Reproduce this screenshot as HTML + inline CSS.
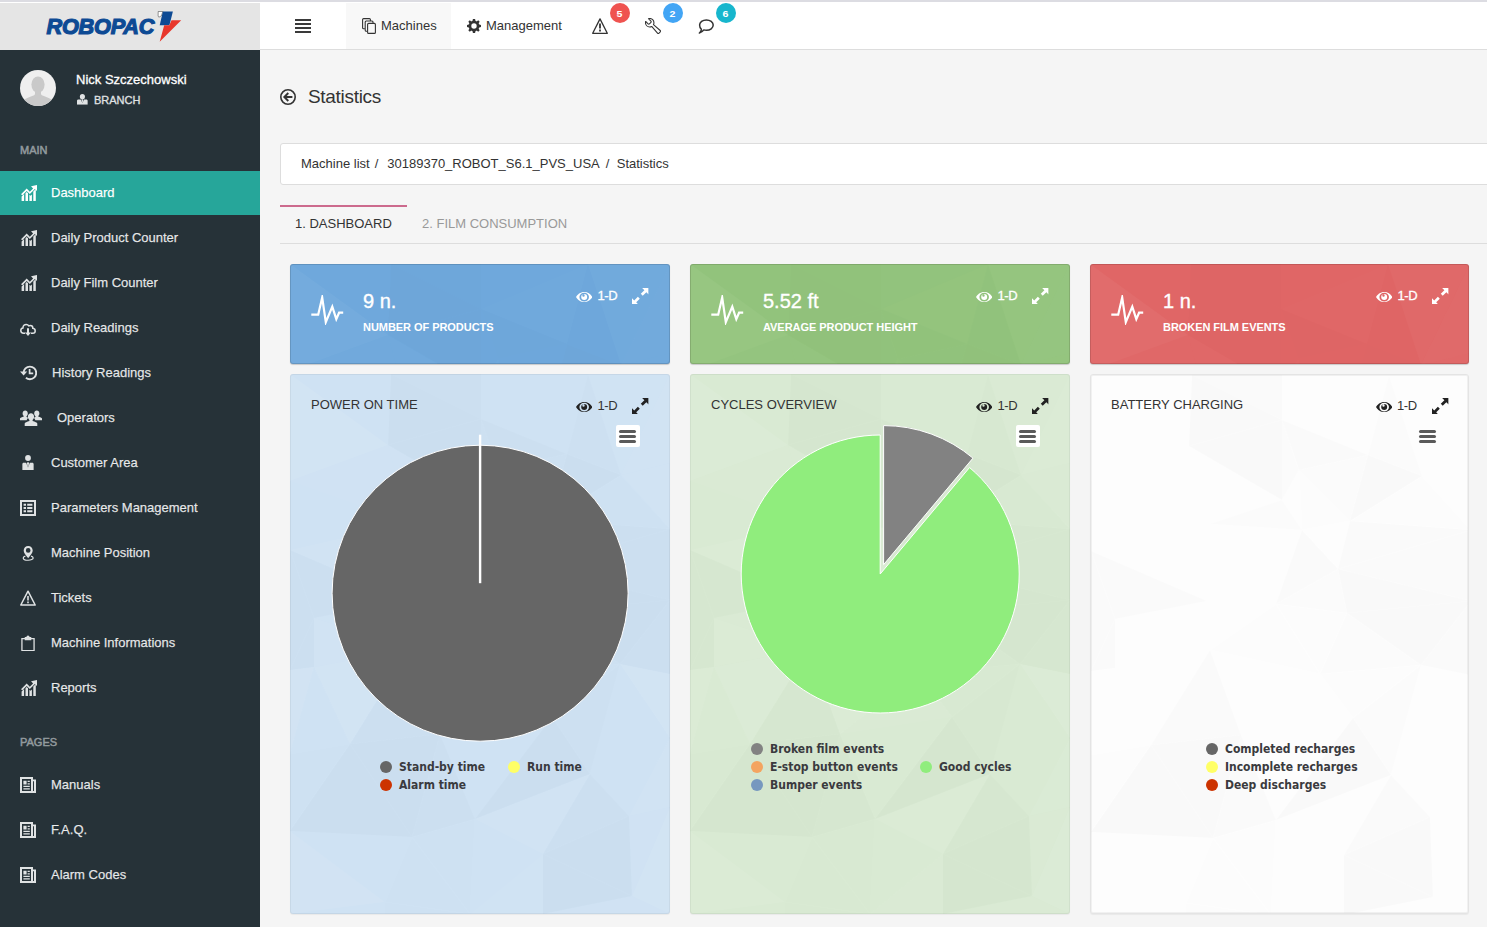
<!DOCTYPE html>
<html lang="en">
<head>
<meta charset="utf-8">
<title>Statistics</title>
<style>
*{box-sizing:border-box;margin:0;padding:0}
html,body{width:1487px;height:927px;overflow:hidden}
body{font-family:"Liberation Sans",Arial,sans-serif;font-size:13px;color:#333;background:#f5f5f5;position:relative}
.abs{position:absolute}
#topstrip{left:0;top:0;width:1487px;height:2px;background:#dcdce2}
#topwhite{left:0;top:2px;width:1487px;height:1px;background:#fff}
/* sidebar */
#logo{left:0;top:3px;width:260px;height:47px;background:#e5e5e5}
#sidebar{left:0;top:50px;width:260px;height:877px;background:#263238;color:#fff}
#avatar{left:20px;top:20px;width:36px;height:36px;border-radius:50%;background:#efefef;overflow:hidden}
#uname{left:76px;top:21.5px;font-size:13px;font-weight:400;color:#fff;line-height:16px;white-space:nowrap;-webkit-text-stroke:0.3px #fff}
#urole{left:94px;top:43px;font-size:11px;color:#e0e3e4;line-height:14px;white-space:nowrap;-webkit-text-stroke:0.3px #e0e3e4}
.navhead{left:20px;font-size:11px;color:#929a9e;line-height:12px;text-transform:uppercase;-webkit-text-stroke:0.5px #929a9e}
.nav{left:0;width:260px;height:44px;color:rgba(255,255,255,.85);font-size:13px;line-height:20px}
.nav span{position:absolute;left:51px;top:11.5px;white-space:nowrap;-webkit-text-stroke:0.25px rgba(255,255,255,.8)}
.nav svg{position:absolute;fill:#dfe2e3;color:#dfe2e3}
.nav.active{background:#26a69a;color:#fff}
.nav.active svg{fill:#fff;color:#fff}
/* navbar */
#navbar{left:260px;top:3px;width:1227px;height:47px;background:#fff;border-bottom:1px solid #ddd}
#tabM{left:86px;top:0;width:105px;height:46px;background:#f8f8f8}
.nbtxt{top:15px;font-size:13px;line-height:16px;color:#333;white-space:nowrap}
.badge{top:0;width:20px;height:20px;border-radius:50%;color:#fff;font-size:9px;font-weight:700;line-height:22px;text-align:center}
.badge b{display:inline-block;transform:scaleX(1.18);font-weight:700}
/* page */
#title{left:308px;top:85px;font-size:19px;line-height:24px;color:#333;white-space:nowrap;letter-spacing:-0.3px}
#crumb{left:280px;top:143px;width:1220px;height:42px;background:#fff;border:1px solid #ddd;border-radius:3px}
#crumb div{position:absolute;left:20px;top:12px;font-size:13px;line-height:16px;color:#333;white-space:pre}
#tabline{left:280px;top:243px;width:1207px;height:1px;background:#ddd}
#tabact{left:280px;top:205px;width:127px;height:2px;background:#cc6a8d}
.tab{top:215.5px;font-size:13px;line-height:16px;white-space:nowrap}
/* cards */
.stat{top:264px;width:380px;height:99.5px;box-shadow:0 1px 1px rgba(0,0,0,.18), inset 0 0 0 1px rgba(0,0,0,.13);border-radius:3px;color:#fff;overflow:hidden}
.stat .v{position:absolute;left:73px;top:25px;font-size:20px;line-height:24px;white-space:nowrap;-webkit-text-stroke:0.35px #fff}
.stat .l{position:absolute;left:73px;top:56px;font-size:11px;line-height:14px;font-weight:700;white-space:nowrap;text-transform:uppercase;letter-spacing:-0.05px}
.oned{position:absolute;left:307.5px;font-size:13px;line-height:16px;white-space:nowrap;letter-spacing:-0.4px}
.stat .oned{top:23.5px;color:#fff;-webkit-text-stroke:0.3px #fff}
.chart{top:374px;width:380px;height:540px;border-radius:3px;overflow:hidden;box-shadow:inset 0 0 0 1px rgba(0,0,0,.05), 0 1px 1px rgba(0,0,0,.05)}
.chart .t{position:absolute;left:21px;top:22.5px;font-size:13px;line-height:16px;color:#333;white-space:nowrap}
.chart .oned{top:24px;color:#333}
.menu{position:absolute;left:325.6px;top:51.4px;width:24px;height:22px;border-radius:2px;background:#fff}
.menu i{position:absolute;left:3.5px;width:17px;height:3px;border-radius:1.5px;background:#5a5a5a}
.lg{position:absolute;font-family:"DejaVu Sans Condensed","DejaVu Sans",sans-serif;font-weight:700;font-size:12px;line-height:14px;color:#3a3a3e;white-space:nowrap}
.dot{position:absolute;width:12px;height:12px;border-radius:50%}
svg.full{position:absolute;left:0;top:0}
svg.tex{position:absolute;left:0;top:0;width:380px;height:540px}
.stat svg.tex{opacity:.55}
</style>
</head>
<body>

<svg width="0" height="0" style="position:absolute">
<defs>
<symbol id="i-stats" viewBox="0 0 16 16">
  <path d="M0.6 16v-4.4l2.5-2.5V16z M4.5 16V8.2l1.2-1.2 1.3 1.3V16z M8.4 16V9.7l1.2 1 1.3-1.3V16z M12.3 16V6.5l2.5-2.5V16z"/>
  <path d="M0 9.3 5.7 3.6 8.8 6.7 12.1 3.4 10 1.3 16 0 V6 l-2.1-2.1-5.1 5.1-3.1-3.1-4.3 4.3z"/>
</symbol>
<symbol id="i-cloud" viewBox="0 0 16 16">
  <path fill="none" stroke="currentColor" stroke-width="1.5" d="M5.2 11.2H3.6C2 11.2 0.8 10 0.8 8.5c0-1.3 0.9-2.4 2.2-2.6 0-0.1 0-0.2 0-0.3 0-1.8 1.4-3.2 3.2-3.2 1.1 0 2.1 0.6 2.7 1.5 0.4-0.3 0.9-0.4 1.4-0.4 1.4 0 2.5 1.1 2.5 2.5 0 0.1 0 0.2 0 0.3 1.3 0.2 2.4 1.3 2.4 2.6 0 1.3-1.1 2.3-2.4 2.3h-1.9"/>
  <path d="M7 6.2h2v4.3h2L8 14 5 10.5h2z"/>
</symbol>
<symbol id="i-history" viewBox="0 0 17 16">
  <path fill="none" stroke="currentColor" stroke-width="1.9" d="M3.6 7.9c0-3.5 2.8-6.3 6.3-6.3s6.3 2.8 6.3 6.3-2.8 6.3-6.3 6.3c-1.5 0-2.9-0.5-4-1.4"/>
  <path d="M0 6.4h7.2L3.6 10.6z"/>
  <path fill="none" stroke="currentColor" stroke-width="1.7" d="M9.6 4v4.4h3.6"/>
</symbol>
<symbol id="i-users" viewBox="0 0 22 16">
  <path d="M5.2 0.4c1.5 0 2.6 1.3 2.6 3 0 1.1-0.5 2.2-1.3 2.8v0.9c0.5 0.2 1.1 0.5 1.6 0.8-0.9 0.7-1.2 1.4-1.5 2.3H0V8.6c0-0.6 2-1.4 3.8-2V5.9C3.1 5.4 2.6 4.5 2.6 3.4c0-1.7 1.1-3 2.6-3z"/>
  <path d="M16.8 0.4c-1.5 0-2.6 1.3-2.6 3 0 1.1 0.5 2.2 1.3 2.8v0.9c-0.5 0.2-1.1 0.5-1.6 0.8 0.9 0.7 1.2 1.4 1.5 2.3H22V8.6c0-0.6-2-1.4-3.8-2V5.9c0.7-0.5 1.2-1.4 1.2-2.5 0-1.7-1.1-3-2.6-3z"/>
  <path d="M11 3.2c1.8 0 3.1 1.5 3.1 3.5 0 1.3-0.6 2.5-1.5 3.2v1c2.2 0.7 4.7 1.7 4.7 2.5V16H4.7v-2.6c0-0.8 2.5-1.8 4.7-2.5v-1C8.5 9.2 7.9 8 7.9 6.7c0-2 1.3-3.5 3.1-3.5z"/>
</symbol>
<symbol id="i-usertie" viewBox="0 0 12 16">
  <circle cx="6" cy="3.2" r="3.1"/>
  <path d="M0 16V9.6c0-0.8 0.6-1.4 1.4-1.4H4L6 13.2 8 8.2h2.6c0.8 0 1.4 0.6 1.4 1.4V16z"/>
  <path d="M5.3 7.8h1.4l0.4 1-0.6 3.4L6 13l-0.5-0.8-0.6-3.4z"/>
</symbol>
<symbol id="i-list" viewBox="0 0 16 16">
  <path fill-rule="evenodd" d="M0 0h16v16H0z M2 2v12h12V2z"/>
  <path d="M3.6 3.8h2.4v2H3.6z M7.2 3.8h5.2v2H7.2z M3.6 7h2.4v2H3.6z M7.2 7h5.2v2H7.2z M3.6 10.2h2.4v2H3.6z M7.2 10.2h5.2v2H7.2z"/>
</symbol>
<symbol id="i-pin" viewBox="0 0 12 16">
  <path fill-rule="evenodd" d="M6 0c2.7 0 4.8 2.1 4.8 4.7 0 3.1-3.6 6.3-4.8 8.3C4.8 11 1.2 7.8 1.2 4.7 1.2 2.1 3.3 0 6 0z M6 2.2a2.5 2.5 0 1 0 0 5 2.5 2.5 0 0 0 0-5z"/>
  <path fill="none" stroke="currentColor" stroke-width="1.3" d="M3 10.8C1.6 11.2 0.7 11.9 0.7 12.7c0 1.4 2.4 2.5 5.3 2.5s5.3-1.1 5.3-2.5c0-0.8-0.9-1.5-2.3-1.9"/>
</symbol>
<symbol id="i-warn" viewBox="0 0 16 16">
  <path fill="none" stroke="currentColor" stroke-width="1.5" stroke-linejoin="round" d="M8 1.2 15.2 15H0.8z"/>
  <path d="M7.2 6h1.6v4.6H7.2z M7.2 11.6h1.6v1.7H7.2z"/>
</symbol>
<symbol id="i-clip" viewBox="0 0 14 17">
  <path fill="none" stroke="currentColor" stroke-width="1.35" d="M0.7 3.7h12.6v12.6H0.7z"/>
  <path d="M3.6 2.2H5.4C5.4 1.2 6 0.4 7 0.4s1.6 0.8 1.6 1.8H10.4V5.4H3.6z"/>
</symbol>
<symbol id="i-news" viewBox="0 0 16 16">
  <path fill-rule="evenodd" d="M0 0h13v2.4h3V16H0z M2 2v12h9V2z M13 4.2V14h1V4.2z"/>
  <path d="M3.4 3.8h3.2v3.6H3.4z M7.6 3.8h2.2v1.2H7.6z M7.6 6.2h2.2v1.2H7.6z M3.4 8.8h6.4v1.2H3.4z M3.4 11.2h6.4v1.2H3.4z"/>
</symbol>

<symbol id="i-pulse" viewBox="0 0 34 30">
  <path fill="none" stroke="currentColor" stroke-width="2.2" stroke-linejoin="miter" stroke-miterlimit="6" d="M1.3 19.7H8.2L12.2 2.5 15.8 27.2 22.3 11.6 26.3 24.1 29.1 17.7H33.2"/>
</symbol>
<symbol id="i-eye" viewBox="0 0 16.4 10.2">
  <path fill-rule="evenodd" d="M8.2 0C12 0 15.2 2.6 16.4 5.1 15.2 7.6 12 10.2 8.2 10.2S1.2 7.6 0 5.1C1.2 2.6 4.4 0 8.2 0z M8.2 0.8A4.8 4.3 0 1 0 8.2 9.4 4.8 4.3 0 0 0 8.2 0.8z"/>
  <path fill-rule="evenodd" d="M8.2 2.1a3 3 0 1 1 0 6 3 3 0 0 1 0-6z M7.5 2.3a1.2 1.2 0 1 0 0 2.4 1.2 1.2 0 0 0 0-2.4z"/>
</symbol>
<symbol id="i-expand" viewBox="0 0 17 17">
  <path d="M17 0v6.6L14.7 4.3 11 8 9 6 12.7 2.3 10.4 0z"/>
  <path d="M0 17v-6.6L2.3 12.7 6 9 8 11 4.3 14.7 6.6 17z"/>
</symbol>
<symbol id="i-back" viewBox="0 0 16 16">
  <circle cx="8" cy="8" r="7.2" fill="none" stroke="currentColor" stroke-width="1.6"/>
  <path fill="none" stroke="currentColor" stroke-width="1.9" d="M12.4 8H4.8 M8.3 4 4.3 8 8.3 12"/>
</symbol>
<symbol id="i-stack" viewBox="0 0 14 16">
  <path fill="none" stroke="currentColor" stroke-width="1.1" d="M2.6 10.8H1.6C1 10.8 0.6 10.4 0.6 9.8V1.6C0.6 1 1 0.6 1.6 0.6H7.4C8 0.6 8.4 1 8.4 1.6V2.6 M5 13.2H4.2C3.6 13.2 3.2 12.8 3.2 12.2V4C3.2 3.4 3.6 3 4.2 3H10C10.6 3 11 3.4 11 4V5.2"/>
  <rect x="5.6" y="5.4" width="7.8" height="10" rx="1" fill="none" stroke="currentColor" stroke-width="1.1"/>
</symbol>
<symbol id="i-gear" viewBox="0 0 14 14">
  <path fill-rule="evenodd" d="M5.9 0h2.2l0.3 1.8c0.5 0.1 0.9 0.3 1.3 0.6l1.5-1.1 1.5 1.5-1.1 1.5c0.3 0.4 0.5 0.8 0.6 1.3L14 5.9v2.2l-1.8 0.3c-0.1 0.5-0.3 0.9-0.6 1.3l1.1 1.5-1.5 1.5-1.5-1.1c-0.4 0.3-0.8 0.5-1.3 0.6L8.1 14H5.9l-0.3-1.8c-0.5-0.1-0.9-0.3-1.3-0.6l-1.5 1.1-1.5-1.5 1.1-1.5C2.1 9.3 1.9 8.9 1.8 8.4L0 8.1V5.9l1.8-0.3c0.1-0.5 0.3-0.9 0.6-1.3L1.3 2.8l1.5-1.5 1.5 1.1c0.4-0.3 0.8-0.5 1.3-0.6z M7 4.3a2.7 2.7 0 1 0 0 5.4 2.7 2.7 0 0 0 0-5.4z"/>
</symbol>
<symbol id="i-warn2" viewBox="0 0 16 16">
  <path fill="none" stroke="currentColor" stroke-width="1.3" stroke-linejoin="round" d="M8 0.9 15.3 15.3H0.7z"/>
  <path d="M7.1 5.6h1.8v5H7.1z M7.1 11.6h1.8v1.8H7.1z"/>
</symbol>
<symbol id="i-wrench" viewBox="-1 -1 34 34">
  <path fill="none" stroke="currentColor" stroke-width="2.3" stroke-linejoin="round" d="M31.342 25.559l-14.392-12.336c0.67-1.259 1.051-2.696 1.051-4.222 0-4.971-4.029-9-9-9-0.909 0-1.787 0.135-2.614 0.386l5.2 5.2c0.778 0.778 0.778 2.051 0 2.828l-3.172 3.172c-0.778 0.778-2.051 0.778-2.828 0l-5.2-5.2c-0.251 0.827-0.386 1.705-0.386 2.614 0 4.971 4.029 9 9 9 1.526 0 2.963-0.38 4.222-1.051l12.336 14.392c0.716 0.835 1.938 0.882 2.716 0.104l3.172-3.172c0.778-0.778 0.731-2-0.104-2.716z"/>
</symbol>
<symbol id="i-bubble" viewBox="0 0 16 15">
  <path fill="none" stroke="currentColor" stroke-width="1.5" stroke-linejoin="round" d="M8.4 0.9c3.8 0 6.8 2.3 6.8 5.2s-3 5.2-6.8 5.2c-0.9 0-1.8-0.1-2.6-0.4C4.8 12.3 3.2 13.6 1.4 14c1.2-1 1.9-2.2 2-3.6C2.3 9.4 1.6 7.8 1.6 6.1 1.6 3.2 4.6 0.9 8.4 0.9z"/>
</symbol>
<symbol id="poly" viewBox="0 0 380 540"><path d="M101 0L191 0L191 45z" fill="#000" fill-opacity="0.012"/><path d="M191 0L298 0L191 45z" fill="#fff" fill-opacity="0.007"/><path d="M180 540L122 463L185 445z" fill="#000" fill-opacity="0.004"/><path d="M253 480L180 540L185 445z" fill="#fff" fill-opacity="0.016"/><path d="M150 360L262 343L185 445z" fill="#fff" fill-opacity="0.019"/><path d="M122 463L150 360L185 445z" fill="#000" fill-opacity="0.013"/><path d="M150 360L122 463L60 370z" fill="#000" fill-opacity="0.014"/><path d="M380 364L380 433L339 442z" fill="#fff" fill-opacity="0.051"/><path d="M0 176L24 244L0 296z" fill="#000" fill-opacity="0.012"/><path d="M116 226L24 244L0 176z" fill="#000" fill-opacity="0.013"/><path d="M98 71L0 107L0 0z" fill="#fff" fill-opacity="0.074"/><path d="M101 0L98 71L0 0z" fill="#000" fill-opacity="0.001"/><path d="M98 71L101 0L191 45z" fill="#000" fill-opacity="0.014"/><path d="M259 146L211 155L208 95z" fill="#000" fill-opacity="0.005"/><path d="M277 80L259 146L208 95z" fill="#000" fill-opacity="0.009"/><path d="M277 80L208 95L191 45z" fill="#000" fill-opacity="0.011"/><path d="M298 0L277 80L191 45z" fill="#fff" fill-opacity="0.02"/><path d="M122 463L0 457L60 370z" fill="#000" fill-opacity="0.015"/><path d="M0 457L0 380L60 370z" fill="#000" fill-opacity="0.005"/><path d="M253 480L253 540L180 540z" fill="#fff" fill-opacity="0.036"/><path d="M119 275L116 226L185 229z" fill="#fff" fill-opacity="0.026"/><path d="M119 275L150 360L60 370z" fill="#000" fill-opacity="0.013"/><path d="M119 275L24 244L116 226z" fill="#fff" fill-opacity="0.039"/><path d="M300 400L380 364L339 442z" fill="#fff" fill-opacity="0.014"/><path d="M253 480L300 400L339 442z" fill="#000" fill-opacity="0.011"/><path d="M262 343L300 400L185 445z" fill="#000" fill-opacity="0.014"/><path d="M300 400L253 480L185 445z" fill="#fff" fill-opacity="0.055"/><path d="M0 107L119 149L0 176z" fill="#000" fill-opacity="0.001"/><path d="M98 71L119 149L0 107z" fill="#fff" fill-opacity="0.033"/><path d="M119 149L116 226L0 176z" fill="#fff" fill-opacity="0.057"/><path d="M116 226L119 149L185 229z" fill="#fff" fill-opacity="0.032"/><path d="M119 149L211 155L185 229z" fill="#fff" fill-opacity="0.063"/><path d="M256 238L229 299L185 229z" fill="#000" fill-opacity="0.003"/><path d="M150 360L229 299L262 343z" fill="#fff" fill-opacity="0.045"/><path d="M229 299L119 275L185 229z" fill="#000" fill-opacity="0.002"/><path d="M119 275L229 299L150 360z" fill="#fff" fill-opacity="0.065"/><path d="M247 194L211 155L259 146z" fill="#fff" fill-opacity="0.057"/><path d="M380 155L247 194L259 146z" fill="#000" fill-opacity="0.012"/><path d="M211 155L247 194L185 229z" fill="#000" fill-opacity="0.011"/><path d="M247 194L256 238L185 229z" fill="#000" fill-opacity="0.008"/><path d="M380 364L330 290L380 300z" fill="#fff" fill-opacity="0.07"/><path d="M229 299L330 290L262 343z" fill="#000" fill-opacity="0.002"/><path d="M330 290L229 299L256 238z" fill="#000" fill-opacity="0.008"/><path d="M330 290L300 400L262 343z" fill="#000" fill-opacity="0.006"/><path d="M300 400L330 290L380 364z" fill="#fff" fill-opacity="0.001"/><path d="M95 540L95 528L180 540z" fill="#000" fill-opacity="0.004"/><path d="M95 528L122 463L180 540z" fill="#000" fill-opacity="0.005"/><path d="M95 528L0 457L122 463z" fill="#fff" fill-opacity="0.013"/><path d="M95 528L95 540L0 540z" fill="#fff" fill-opacity="0.013"/><path d="M0 457L95 528L0 540z" fill="#fff" fill-opacity="0.061"/><path d="M253 540L342 522L380 540z" fill="#fff" fill-opacity="0.027"/><path d="M342 522L253 540L253 480z" fill="#000" fill-opacity="0.015"/><path d="M342 522L253 480L339 442z" fill="#000" fill-opacity="0.015"/><path d="M342 522L380 433L380 540z" fill="#fff" fill-opacity="0.074"/><path d="M380 433L342 522L339 442z" fill="#fff" fill-opacity="0.026"/><path d="M24 244L24 293L0 296z" fill="#000" fill-opacity="0.010"/><path d="M119 275L24 293L24 244z" fill="#fff" fill-opacity="0.054"/><path d="M24 293L119 275L60 370z" fill="#fff" fill-opacity="0.07"/><path d="M24 293L0 380L0 296z" fill="#fff" fill-opacity="0.061"/><path d="M0 380L24 293L60 370z" fill="#fff" fill-opacity="0.01"/><path d="M191 125L119 149L98 71z" fill="#fff" fill-opacity="0.032"/><path d="M208 95L191 125L191 45z" fill="#000" fill-opacity="0.009"/><path d="M191 125L98 71L191 45z" fill="#000" fill-opacity="0.014"/><path d="M211 155L191 125L208 95z" fill="#fff" fill-opacity="0.011"/><path d="M119 149L191 125L211 155z" fill="#000" fill-opacity="0.007"/><path d="M330 290L380 226L380 300z" fill="#000" fill-opacity="0.013"/><path d="M380 226L330 290L256 238z" fill="#000" fill-opacity="0.015"/><path d="M247 194L380 226L256 238z" fill="#000" fill-opacity="0.015"/><path d="M380 226L247 194L380 155z" fill="#000" fill-opacity="0.012"/><path d="M331 101L380 89L380 155z" fill="#fff" fill-opacity="0.045"/><path d="M331 101L380 155L259 146z" fill="#000" fill-opacity="0.003"/><path d="M277 80L331 101L259 146z" fill="#000" fill-opacity="0.015"/><path d="M331 101L277 80L298 0z" fill="#000" fill-opacity="0.006"/><path d="M331 101L298 0L380 0z" fill="#fff" fill-opacity="0.04"/><path d="M380 89L331 101L380 0z" fill="#fff" fill-opacity="0.056"/></symbol>
<symbol id="i-role" viewBox="0 0 11 11">
  <circle cx="5.5" cy="2.7" r="2.6"/>
  <path d="M0 11V7c0-0.8 0.6-1.4 1.4-1.4H3.8L5.5 9.2 7.2 5.6H9.6C10.4 5.6 11 6.2 11 7v4z"/>
  <path d="M4.9 5.4h1.2l0.3 0.8-0.5 2.2-0.4 0.7-0.4-0.7-0.5-2.2z"/>
</symbol>
</defs>
</svg>
<div class="abs" id="topstrip"></div>
<div class="abs" id="topwhite"></div>

<!-- NAVBAR -->
<div class="abs" id="navbar">
  <div class="abs" id="tabM"></div>
  <div class="abs" style="left:35px;top:16px;width:16px;height:2px;background:#3a3a3a;box-shadow:0 4px 0 #3a3a3a,0 8px 0 #3a3a3a,0 12px 0 #3a3a3a"></div>
  <svg class="abs" style="left:102px;top:15px;width:14px;height:16px;color:#333"><use href="#i-stack"/></svg>
  <svg class="abs" style="left:207px;top:16px;width:14px;height:14px;fill:#333"><use href="#i-gear"/></svg>
  <svg class="abs" style="left:332px;top:15px;width:16px;height:16px;color:#333;fill:#333"><use href="#i-warn2"/></svg>
  <svg class="abs" style="left:385px;top:15px;width:16px;height:16px;color:#333"><use href="#i-wrench"/></svg>
  <svg class="abs" style="left:438px;top:16px;width:16px;height:15px;color:#333"><use href="#i-bubble"/></svg>
  <div class="abs nbtxt" style="left:121px">Machines</div>
  <div class="abs nbtxt" style="left:226px">Management</div>
  <div class="abs badge" style="left:350px;background:#ef5350"><b>5</b></div>
  <div class="abs badge" style="left:403px;background:#42a5f5"><b>2</b></div>
  <div class="abs badge" style="left:456px;background:#17b6cd"><b>6</b></div>
</div>

<!-- SIDEBAR -->
<div class="abs" id="logo">
  <div style="position:absolute;left:46.5px;top:8.7px;font-size:21.7px;line-height:30px;font-weight:700;font-style:italic;color:#0d4a94;letter-spacing:-0.22px;-webkit-text-stroke:1.2px #0d4a94;white-space:nowrap">ROBOPAC</div>
  <svg style="position:absolute;left:155px;top:6px" width="30" height="36" viewBox="155 9 30 36">
    <path d="M158.2 11.5H162.9L161.4 15.8 158.8 17.2 158.1 16z" fill="#fff" stroke="#333" stroke-width="0.5"/>
    <path d="M162.9 11.5H172.9L169.4 25.3H159.7z" fill="#0d4a94"/>
    <path d="M171.5 20.3H181.2L159.7 41.7 164.2 25.3H169.4z" fill="#e8372c"/>
  </svg>
</div>
<div class="abs" id="sidebar">
  <div class="abs" id="avatar"><svg width="36" height="36" viewBox="0 0 36 36"><ellipse cx="18" cy="14.6" rx="6.6" ry="8.2" fill="#c9c9c9"/><path d="M15 19h6v4.5c0 1 0.5 1.6 1.5 2C27 27 31 28.5 33 31v5H3v-5c2-2.5 6-4 10.5-5.5 1-0.4 1.5-1 1.5-2z" fill="#c9c9c9"/></svg></div>
  <div class="abs" id="uname">Nick Szczechowski</div>
  <svg class="abs" style="left:76.8px;top:44px;width:10.8px;height:10.8px;fill:#e0e3e4"><use href="#i-role"/></svg>
  <div class="abs" id="urole">BRANCH</div>
  <div class="abs navhead" style="top:94px">MAIN</div>
  <div class="abs nav active" style="top:121px"><svg style="left:20.5px;top:14px;width:16px;height:16px"><use href="#i-stats"/></svg><span>Dashboard</span></div>
  <div class="abs nav" style="top:166px"><svg style="left:20.5px;top:14px;width:16px;height:16px"><use href="#i-stats"/></svg><span>Daily Product Counter</span></div>
  <div class="abs nav" style="top:211px"><svg style="left:20.5px;top:14px;width:16px;height:16px"><use href="#i-stats"/></svg><span>Daily Film Counter</span></div>
  <div class="abs nav" style="top:256px"><svg style="left:20px;top:15.8px;width:16px;height:16px"><use href="#i-cloud"/></svg><span>Daily Readings</span></div>
  <div class="abs nav" style="top:301px"><svg style="left:20px;top:14px;width:17px;height:16px"><use href="#i-history"/></svg><span style="left:52px">History Readings</span></div>
  <div class="abs nav" style="top:346px"><svg style="left:20px;top:13.5px;width:22px;height:16px"><use href="#i-users"/></svg><span style="left:57px">Operators</span></div>
  <div class="abs nav" style="top:391px"><svg style="left:22px;top:13.7px;width:12px;height:15px"><use href="#i-usertie"/></svg><span>Customer Area</span></div>
  <div class="abs nav" style="top:436px"><svg style="left:20px;top:14px;width:16px;height:16px"><use href="#i-list"/></svg><span>Parameters Management</span></div>
  <div class="abs nav" style="top:481px"><svg style="left:22px;top:14.5px;width:12.4px;height:15px"><use href="#i-pin"/></svg><span>Machine Position</span></div>
  <div class="abs nav" style="top:526px"><svg style="left:20px;top:14px;width:16px;height:16px"><use href="#i-warn"/></svg><span>Tickets</span></div>
  <div class="abs nav" style="top:571px"><svg style="left:21px;top:13.7px;width:14px;height:16.4px"><use href="#i-clip"/></svg><span>Machine Informations</span></div>
  <div class="abs nav" style="top:616px"><svg style="left:20.5px;top:14px;width:16px;height:16px"><use href="#i-stats"/></svg><span>Reports</span></div>
  <div class="abs navhead" style="top:686px">PAGES</div>
  <div class="abs nav" style="top:713px"><svg style="left:20px;top:14px;width:16px;height:16px"><use href="#i-news"/></svg><span>Manuals</span></div>
  <div class="abs nav" style="top:758px"><svg style="left:20px;top:14px;width:16px;height:16px"><use href="#i-news"/></svg><span>F.A.Q.</span></div>
  <div class="abs nav" style="top:803px"><svg style="left:20px;top:14px;width:16px;height:16px"><use href="#i-news"/></svg><span>Alarm Codes</span></div>
</div>

<!-- PAGE HEADER -->
<svg class="abs" style="left:280.3px;top:89px;width:16px;height:16px;color:#333"><use href="#i-back"/></svg>
<div class="abs" id="title">Statistics</div>
<div class="abs" id="crumb"><div><span id="c1">Machine list</span><span id="c2" style="margin-left:5px">/</span><span id="c3" style="margin-left:9px">30189370_ROBOT_S6.1_PVS_USA</span><span id="c4" style="margin-left:6px">/</span><span id="c5" style="margin-left:7.4px">Statistics</span></div></div>
<div class="abs" id="tabline"></div>
<div class="abs" id="tabact"></div>
<div class="abs tab" style="left:295px;color:#333">1. DASHBOARD</div>
<div class="abs tab" style="left:422px;color:#999">2. FILM CONSUMPTION</div>

<!-- STAT CARDS -->
<div class="abs stat" style="left:290px;background:#6fa8dc"><svg class="tex" width="380" height="540"><use href="#poly"/></svg><svg style="position:absolute;left:20px;top:30.7px;width:34px;height:30px;color:#fff"><use href="#i-pulse"/></svg><svg style="position:absolute;left:286px;top:28px;width:16.4px;height:10.2px;fill:#fff"><use href="#i-eye"/></svg><svg style="position:absolute;left:342.3px;top:23.8px;width:16.6px;height:16.6px;fill:#fff"><use href="#i-expand"/></svg><div class="v">9 n.</div><div class="l">NUMBER OF PRODUCTS</div><div class="oned">1-D</div></div>
<div class="abs stat" style="left:690px;background:#93c47d"><svg class="tex" width="380" height="540"><use href="#poly"/></svg><svg style="position:absolute;left:20px;top:30.7px;width:34px;height:30px;color:#fff"><use href="#i-pulse"/></svg><svg style="position:absolute;left:286px;top:28px;width:16.4px;height:10.2px;fill:#fff"><use href="#i-eye"/></svg><svg style="position:absolute;left:342.3px;top:23.8px;width:16.6px;height:16.6px;fill:#fff"><use href="#i-expand"/></svg><div class="v">5.52 ft</div><div class="l">AVERAGE PRODUCT HEIGHT</div><div class="oned">1-D</div></div>
<div class="abs stat" style="left:1090px;width:379px;background:#e06666"><svg class="tex" width="380" height="540"><use href="#poly"/></svg><svg style="position:absolute;left:20px;top:30.7px;width:34px;height:30px;color:#fff"><use href="#i-pulse"/></svg><svg style="position:absolute;left:286px;top:28px;width:16.4px;height:10.2px;fill:#fff"><use href="#i-eye"/></svg><svg style="position:absolute;left:342.3px;top:23.8px;width:16.6px;height:16.6px;fill:#fff"><use href="#i-expand"/></svg><div class="v">1 n.</div><div class="l">BROKEN FILM EVENTS</div><div class="oned">1-D</div></div>

<!-- CHART CARDS -->
<div class="abs chart" style="left:290px;background:#cfe2f3"><svg class="tex" width="380" height="540"><use href="#poly"/></svg><svg style="position:absolute;left:286px;top:27.8px;width:16.4px;height:10.2px;fill:#222"><use href="#i-eye"/></svg><svg style="position:absolute;left:342.3px;top:23.6px;width:16.6px;height:16.6px;fill:#222"><use href="#i-expand"/></svg><svg class="full" width="380" height="540"><circle cx="190.1" cy="219.2" r="148" fill="#666666" stroke="#fff" stroke-width="1"/><rect x="188.9" y="60.7" width="2.4" height="148.5" fill="#fff"/></svg><div class="dot" style="left:90px;top:386.5px;background:#666666"></div><div class="lg" style="left:109px;top:386px">Stand-by time</div><div class="dot" style="left:218px;top:386.5px;background:#ffff66"></div><div class="lg" style="left:237px;top:386px">Run time</div><div class="dot" style="left:90px;top:404.5px;background:#cc3300"></div><div class="lg" style="left:109px;top:404px">Alarm time</div><div class="t">POWER ON TIME</div><div class="oned">1-D</div>
  <div class="menu"><i style="top:5px"></i><i style="top:10px"></i><i style="top:15px"></i></div>
</div>
<div class="abs chart" style="left:690px;background:#d9ead3"><svg class="tex" width="380" height="540"><use href="#poly"/></svg><svg style="position:absolute;left:286px;top:27.8px;width:16.4px;height:10.2px;fill:#222"><use href="#i-eye"/></svg><svg style="position:absolute;left:342.3px;top:23.6px;width:16.6px;height:16.6px;fill:#222"><use href="#i-expand"/></svg><svg class="full" width="380" height="540"><path d="M190.20 200.00L279.55 93.52A139 139 0 1 1 190.20 61.00Z" fill="#90ed7d" stroke="#fff" stroke-width="1" stroke-linejoin="round"/><path d="M193.62 190.60L193.62 51.60A139 139 0 0 1 282.97 84.12Z" fill="#828282" stroke="#fff" stroke-width="1" stroke-linejoin="round"/></svg><div class="dot" style="left:61px;top:368.5px;background:#828282"></div><div class="lg" style="left:80px;top:368px">Broken film events</div><div class="dot" style="left:61px;top:386.5px;background:#f4a460"></div><div class="lg" style="left:80px;top:386px">E-stop button events</div><div class="dot" style="left:230px;top:386.5px;background:#90ed7d"></div><div class="lg" style="left:249px;top:386px">Good cycles</div><div class="dot" style="left:61px;top:404.5px;background:#7798bf"></div><div class="lg" style="left:80px;top:404px">Bumper events</div><div class="t">CYCLES OVERVIEW</div><div class="oned">1-D</div>
  <div class="menu"><i style="top:5px"></i><i style="top:10px"></i><i style="top:15px"></i></div>
</div>
<div class="abs chart" style="left:1090px;width:379px;background:#fdfdfd;border:1px solid #e4e4e4"><svg class="tex" width="380" height="540"><use href="#poly"/></svg><svg style="position:absolute;left:285px;top:26.8px;width:16.4px;height:10.2px;fill:#222"><use href="#i-eye"/></svg><svg style="position:absolute;left:341.3px;top:22.6px;width:16.6px;height:16.6px;fill:#222"><use href="#i-expand"/></svg><div class="dot" style="left:115px;top:367.5px;background:#666666"></div><div class="lg" style="left:134px;top:367px">Completed recharges</div><div class="dot" style="left:115px;top:385.5px;background:#ffff66"></div><div class="lg" style="left:134px;top:385px">Incomplete recharges</div><div class="dot" style="left:115px;top:403.5px;background:#cc3300"></div><div class="lg" style="left:134px;top:403px">Deep discharges</div><div class="t" style="left:20px;top:21.5px">BATTERY CHARGING</div><div class="oned" style="left:306px;top:23px">1-D</div>
  <div class="menu" style="left:324.6px;top:50.4px;background:transparent"><i style="top:5px"></i><i style="top:10px"></i><i style="top:15px"></i></div>
</div>
</body>
</html>
